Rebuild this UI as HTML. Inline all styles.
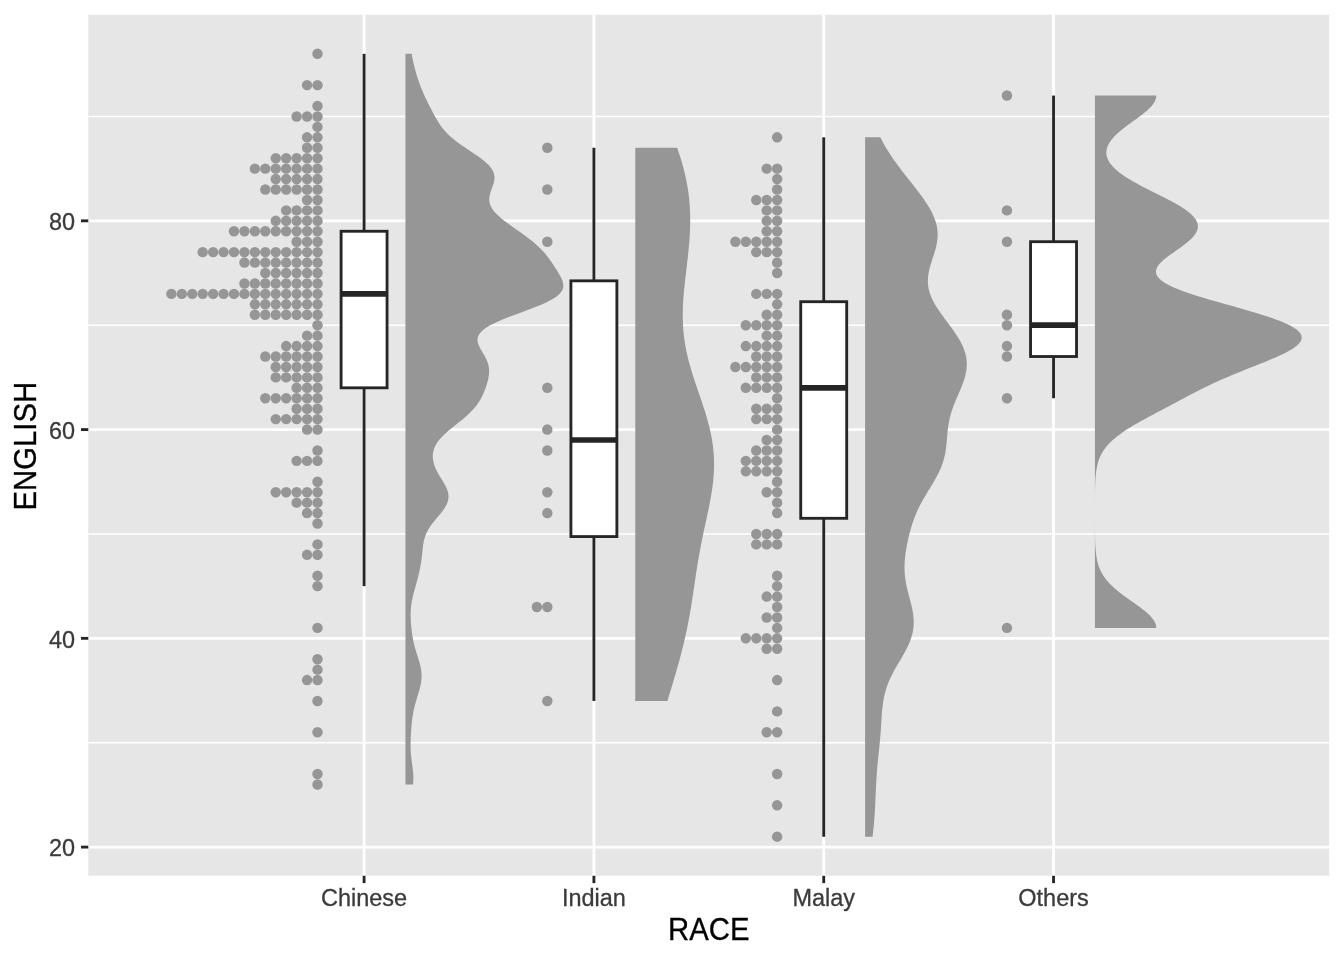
<!DOCTYPE html>
<html lang="en"><head><meta charset="utf-8"><title>Raincloud plot: ENGLISH by RACE</title>
<style>html,body{margin:0;padding:0;background:#fff}svg{display:block}</style></head>
<body>
<svg width="1344" height="960" viewBox="0 0 1344 960">
<rect width="1344" height="960" fill="#FFFFFF"/>
<rect x="88.3" y="14.67" width="1240.8" height="861.13" fill="#E6E6E6"/>
<g stroke="#FFFFFF" stroke-width="1.42">
<line x1="88.3" x2="1329.1" y1="742.72" y2="742.72"/>
<line x1="88.3" x2="1329.1" y1="533.96" y2="533.96"/>
<line x1="88.3" x2="1329.1" y1="325.2" y2="325.2"/>
<line x1="88.3" x2="1329.1" y1="116.44" y2="116.44"/>
</g>
<g stroke="#FFFFFF" stroke-width="2.84">
<line x1="88.3" x2="1329.1" y1="847.1" y2="847.1"/>
<line x1="88.3" x2="1329.1" y1="638.34" y2="638.34"/>
<line x1="88.3" x2="1329.1" y1="429.58" y2="429.58"/>
<line x1="88.3" x2="1329.1" y1="220.82" y2="220.82"/>
<line x1="364.08" x2="364.08" y1="14.67" y2="875.8"/>
<line x1="593.9" x2="593.9" y1="14.67" y2="875.8"/>
<line x1="823.73" x2="823.73" y1="14.67" y2="875.8"/>
<line x1="1053.55" x2="1053.55" y1="14.67" y2="875.8"/>
</g>
<g fill="#969696">
<path d="M405.45 784.47 L412.98 784.47 L413.24 781.55 L413.35 778.62 L413.32 775.7 L413.14 772.78 L412.86 769.85 L412.5 766.93 L412.11 764.01 L411.7 761.09 L411.33 758.16 L411.02 755.24 L410.78 752.32 L410.63 749.4 L410.56 746.47 L410.56 743.55 L410.63 740.63 L410.75 737.71 L410.9 734.78 L411.08 731.86 L411.28 728.94 L411.51 726.02 L411.78 723.09 L412.09 720.17 L412.47 717.25 L412.92 714.33 L413.46 711.4 L414.09 708.48 L414.81 705.56 L415.61 702.63 L416.47 699.71 L417.37 696.79 L418.27 693.87 L419.13 690.94 L419.92 688.02 L420.6 685.1 L421.12 682.18 L421.46 679.25 L421.6 676.33 L421.52 673.41 L421.23 670.49 L420.74 667.56 L420.08 664.64 L419.29 661.72 L418.41 658.8 L417.48 655.87 L416.55 652.95 L415.65 650.03 L414.81 647.1 L414.05 644.18 L413.39 641.26 L412.81 638.34 L412.32 635.41 L411.91 632.49 L411.55 629.57 L411.26 626.65 L411.01 623.72 L410.82 620.8 L410.7 617.88 L410.66 614.96 L410.7 612.03 L410.86 609.11 L411.12 606.19 L411.51 603.27 L412.01 600.34 L412.61 597.42 L413.31 594.5 L414.06 591.57 L414.87 588.65 L415.69 585.73 L416.51 582.81 L417.31 579.88 L418.08 576.96 L418.81 574.04 L419.48 571.12 L420.09 568.19 L420.63 565.27 L421.11 562.35 L421.51 559.43 L421.86 556.5 L422.17 553.58 L422.46 550.66 L422.78 547.74 L423.16 544.81 L423.67 541.89 L424.36 538.97 L425.27 536.05 L426.46 533.12 L427.94 530.2 L429.7 527.28 L431.74 524.35 L434 521.43 L436.41 518.51 L438.86 515.59 L441.25 512.66 L443.46 509.74 L445.38 506.82 L446.91 503.9 L447.97 500.97 L448.5 498.05 L448.51 495.13 L448 492.21 L447.05 489.28 L445.72 486.36 L444.13 483.44 L442.37 480.52 L440.57 477.59 L438.82 474.67 L437.2 471.75 L435.78 468.82 L434.59 465.9 L433.68 462.98 L433.07 460.06 L432.79 457.13 L432.87 454.21 L433.32 451.29 L434.19 448.37 L435.5 445.44 L437.25 442.52 L439.45 439.6 L442.07 436.68 L445.06 433.75 L448.36 430.83 L451.89 427.91 L455.53 424.99 L459.2 422.06 L462.78 419.14 L466.2 416.22 L469.38 413.29 L472.28 410.37 L474.88 407.45 L477.16 404.53 L479.15 401.6 L480.88 398.68 L482.38 395.76 L483.7 392.84 L484.87 389.91 L485.91 386.99 L486.84 384.07 L487.66 381.15 L488.33 378.22 L488.82 375.3 L489.08 372.38 L489.06 369.46 L488.72 366.53 L488.03 363.61 L486.99 360.69 L485.63 357.77 L484.02 354.84 L482.29 351.92 L480.57 349 L479.06 346.07 L477.95 343.15 L477.45 340.23 L477.75 337.31 L479.03 334.38 L481.4 331.46 L484.92 328.54 L489.59 325.62 L495.33 322.69 L501.99 319.77 L509.35 316.85 L517.14 313.93 L525.07 311 L532.82 308.08 L540.09 305.16 L546.62 302.24 L552.19 299.31 L556.66 296.39 L559.96 293.47 L562.12 290.54 L563.21 287.62 L563.38 284.7 L562.81 281.78 L561.69 278.85 L560.21 275.93 L558.51 273.01 L556.7 270.09 L554.84 267.16 L552.94 264.24 L550.98 261.32 L548.92 258.4 L546.69 255.47 L544.24 252.55 L541.54 249.63 L538.56 246.71 L535.3 243.78 L531.78 240.86 L528.03 237.94 L524.1 235.01 L520.03 232.09 L515.9 229.17 L511.77 226.25 L507.74 223.32 L503.88 220.4 L500.3 217.48 L497.1 214.56 L494.37 211.63 L492.18 208.71 L490.58 205.79 L489.61 202.87 L489.22 199.94 L489.38 197.02 L489.97 194.1 L490.88 191.18 L491.95 188.25 L493 185.33 L493.88 182.41 L494.42 179.49 L494.49 176.56 L493.97 173.64 L492.81 170.72 L490.97 167.79 L488.46 164.87 L485.35 161.95 L481.73 159.03 L477.71 156.1 L473.44 153.18 L469.04 150.26 L464.67 147.34 L460.44 144.41 L456.46 141.49 L452.79 138.57 L449.47 135.65 L446.51 132.72 L443.89 129.8 L441.57 126.88 L439.51 123.96 L437.64 121.03 L435.92 118.11 L434.29 115.19 L432.73 112.26 L431.2 109.34 L429.7 106.42 L428.24 103.5 L426.81 100.57 L425.43 97.65 L424.09 94.73 L422.82 91.81 L421.6 88.88 L420.45 85.96 L419.36 83.04 L418.33 80.12 L417.37 77.19 L416.46 74.27 L415.62 71.35 L414.83 68.43 L414.1 65.5 L413.41 62.58 L412.77 59.66 L412.16 56.73 L411.58 53.81 L405.45 53.81Z"/>
<path d="M635.27 700.96 L667.36 700.96 L668.04 698.75 L668.73 696.54 L669.41 694.33 L670.09 692.11 L670.77 689.9 L671.45 687.69 L672.12 685.47 L672.79 683.26 L673.45 681.05 L674.11 678.84 L674.76 676.62 L675.41 674.41 L676.06 672.2 L676.69 669.98 L677.32 667.77 L677.95 665.56 L678.56 663.35 L679.17 661.13 L679.77 658.92 L680.36 656.71 L680.95 654.49 L681.52 652.28 L682.09 650.07 L682.64 647.86 L683.19 645.64 L683.72 643.43 L684.25 641.22 L684.76 639 L685.27 636.79 L685.76 634.58 L686.24 632.37 L686.71 630.15 L687.17 627.94 L687.62 625.73 L688.06 623.52 L688.49 621.3 L688.9 619.09 L689.31 616.88 L689.71 614.66 L690.1 612.45 L690.48 610.24 L690.85 608.03 L691.21 605.81 L691.57 603.6 L691.92 601.39 L692.26 599.17 L692.6 596.96 L692.93 594.75 L693.27 592.54 L693.59 590.32 L693.92 588.11 L694.25 585.9 L694.57 583.68 L694.9 581.47 L695.23 579.26 L695.56 577.05 L695.89 574.83 L696.23 572.62 L696.57 570.41 L696.92 568.19 L697.27 565.98 L697.63 563.77 L698 561.56 L698.37 559.34 L698.76 557.13 L699.15 554.92 L699.54 552.7 L699.95 550.49 L700.37 548.28 L700.79 546.07 L701.22 543.85 L701.66 541.64 L702.1 539.43 L702.56 537.21 L703.02 535 L703.48 532.79 L703.95 530.58 L704.42 528.36 L704.9 526.15 L705.38 523.94 L705.86 521.72 L706.34 519.51 L706.81 517.3 L707.29 515.09 L707.76 512.87 L708.22 510.66 L708.68 508.45 L709.13 506.23 L709.56 504.02 L709.99 501.81 L710.4 499.6 L710.8 497.38 L711.18 495.17 L711.55 492.96 L711.89 490.74 L712.22 488.53 L712.52 486.32 L712.8 484.11 L713.05 481.89 L713.28 479.68 L713.48 477.47 L713.65 475.25 L713.8 473.04 L713.91 470.83 L713.99 468.62 L714.04 466.4 L714.06 464.19 L714.04 461.98 L713.99 459.76 L713.91 457.55 L713.79 455.34 L713.64 453.13 L713.45 450.91 L713.23 448.7 L712.97 446.49 L712.68 444.27 L712.36 442.06 L712 439.85 L711.62 437.64 L711.2 435.42 L710.75 433.21 L710.27 431 L709.76 428.78 L709.22 426.57 L708.66 424.36 L708.07 422.15 L707.46 419.93 L706.83 417.72 L706.18 415.51 L705.51 413.29 L704.82 411.08 L704.11 408.87 L703.4 406.66 L702.67 404.44 L701.93 402.23 L701.18 400.02 L700.43 397.81 L699.67 395.59 L698.91 393.38 L698.15 391.17 L697.4 388.95 L696.64 386.74 L695.89 384.53 L695.15 382.32 L694.42 380.1 L693.7 377.89 L692.99 375.68 L692.3 373.46 L691.62 371.25 L690.96 369.04 L690.32 366.83 L689.7 364.61 L689.1 362.4 L688.52 360.19 L687.97 357.97 L687.44 355.76 L686.94 353.55 L686.46 351.34 L686.02 349.12 L685.6 346.91 L685.21 344.7 L684.85 342.48 L684.51 340.27 L684.21 338.06 L683.94 335.85 L683.69 333.63 L683.48 331.42 L683.29 329.21 L683.13 326.99 L683 324.78 L682.9 322.57 L682.83 320.36 L682.78 318.14 L682.76 315.93 L682.76 313.72 L682.79 311.5 L682.84 309.29 L682.92 307.08 L683.01 304.87 L683.12 302.65 L683.26 300.44 L683.41 298.23 L683.57 296.01 L683.76 293.8 L683.95 291.59 L684.16 289.38 L684.38 287.16 L684.61 284.95 L684.85 282.74 L685.1 280.52 L685.35 278.31 L685.61 276.1 L685.87 273.89 L686.13 271.67 L686.39 269.46 L686.66 267.25 L686.92 265.03 L687.18 262.82 L687.43 260.61 L687.69 258.4 L687.93 256.18 L688.17 253.97 L688.4 251.76 L688.62 249.54 L688.83 247.33 L689.03 245.12 L689.21 242.91 L689.38 240.69 L689.54 238.48 L689.69 236.27 L689.81 234.05 L689.93 231.84 L690.02 229.63 L690.09 227.42 L690.15 225.2 L690.19 222.99 L690.2 220.78 L690.2 218.56 L690.17 216.35 L690.12 214.14 L690.05 211.93 L689.95 209.71 L689.83 207.5 L689.69 205.29 L689.52 203.07 L689.33 200.86 L689.11 198.65 L688.87 196.44 L688.6 194.22 L688.3 192.01 L687.98 189.8 L687.63 187.58 L687.25 185.37 L686.85 183.16 L686.43 180.95 L685.97 178.73 L685.49 176.52 L684.99 174.31 L684.46 172.1 L683.91 169.88 L683.33 167.67 L682.73 165.46 L682.1 163.24 L681.45 161.03 L680.78 158.82 L680.09 156.61 L679.38 154.39 L678.65 152.18 L677.9 149.97 L677.13 147.75 L635.27 147.75Z"/>
<path d="M865.09 836.66 L872.56 836.66 L872.89 833.86 L873.21 831.06 L873.5 828.27 L873.78 825.47 L874.03 822.67 L874.26 819.87 L874.47 817.08 L874.67 814.28 L874.84 811.48 L875 808.68 L875.14 805.89 L875.28 803.09 L875.4 800.29 L875.52 797.49 L875.64 794.7 L875.76 791.9 L875.89 789.1 L876.02 786.31 L876.16 783.51 L876.32 780.71 L876.49 777.91 L876.68 775.12 L876.88 772.32 L877.11 769.52 L877.34 766.72 L877.6 763.93 L877.87 761.13 L878.15 758.33 L878.44 755.53 L878.73 752.74 L879.02 749.94 L879.31 747.14 L879.59 744.34 L879.86 741.55 L880.12 738.75 L880.36 735.95 L880.59 733.16 L880.8 730.36 L880.99 727.56 L881.17 724.76 L881.35 721.97 L881.53 719.17 L881.71 716.37 L881.91 713.57 L882.14 710.78 L882.41 707.98 L882.72 705.18 L883.1 702.38 L883.56 699.59 L884.1 696.79 L884.73 693.99 L885.46 691.19 L886.31 688.4 L887.26 685.6 L888.33 682.8 L889.51 680.01 L890.79 677.21 L892.17 674.41 L893.64 671.61 L895.17 668.82 L896.77 666.02 L898.39 663.22 L900.04 660.42 L901.68 657.63 L903.29 654.83 L904.84 652.03 L906.33 649.23 L907.72 646.44 L908.99 643.64 L910.14 640.84 L911.14 638.04 L911.99 635.25 L912.67 632.45 L913.18 629.65 L913.53 626.86 L913.71 624.06 L913.73 621.26 L913.6 618.46 L913.34 615.67 L912.95 612.87 L912.45 610.07 L911.87 607.27 L911.21 604.48 L910.51 601.68 L909.78 598.88 L909.04 596.08 L908.31 593.29 L907.61 590.49 L906.95 587.69 L906.35 584.89 L905.82 582.1 L905.38 579.3 L905.02 576.5 L904.76 573.71 L904.59 570.91 L904.52 568.11 L904.54 565.31 L904.65 562.52 L904.85 559.72 L905.12 556.92 L905.46 554.12 L905.86 551.33 L906.32 548.53 L906.82 545.73 L907.38 542.93 L907.97 540.14 L908.6 537.34 L909.28 534.54 L910 531.74 L910.77 528.95 L911.59 526.15 L912.48 523.35 L913.43 520.56 L914.45 517.76 L915.55 514.96 L916.74 512.16 L918.01 509.37 L919.37 506.57 L920.81 503.77 L922.33 500.97 L923.91 498.18 L925.55 495.38 L927.22 492.58 L928.93 489.78 L930.63 486.99 L932.32 484.19 L933.98 481.39 L935.58 478.59 L937.1 475.8 L938.53 473 L939.85 470.2 L941.06 467.41 L942.14 464.61 L943.09 461.81 L943.92 459.01 L944.62 456.22 L945.2 453.42 L945.68 450.62 L946.07 447.82 L946.39 445.03 L946.66 442.23 L946.9 439.43 L947.13 436.63 L947.37 433.84 L947.64 431.04 L947.96 428.24 L948.35 425.44 L948.81 422.65 L949.37 419.85 L950.02 417.05 L950.76 414.26 L951.61 411.46 L952.54 408.66 L953.56 405.86 L954.65 403.07 L955.79 400.27 L956.98 397.47 L958.19 394.67 L959.4 391.88 L960.58 389.08 L961.72 386.28 L962.8 383.48 L963.79 380.69 L964.66 377.89 L965.41 375.09 L966.01 372.29 L966.45 369.5 L966.71 366.7 L966.78 363.9 L966.66 361.11 L966.35 358.31 L965.83 355.51 L965.11 352.71 L964.2 349.92 L963.11 347.12 L961.83 344.32 L960.39 341.52 L958.8 338.73 L957.08 335.93 L955.24 333.13 L953.3 330.33 L951.29 327.54 L949.23 324.74 L947.15 321.94 L945.06 319.14 L942.99 316.35 L940.97 313.55 L939.02 310.75 L937.17 307.96 L935.43 305.16 L933.84 302.36 L932.41 299.56 L931.15 296.77 L930.09 293.97 L929.22 291.17 L928.57 288.37 L928.13 285.58 L927.89 282.78 L927.86 279.98 L928.03 277.18 L928.37 274.39 L928.87 271.59 L929.51 268.79 L930.26 265.99 L931.1 263.2 L931.99 260.4 L932.9 257.6 L933.81 254.81 L934.68 252.01 L935.49 249.21 L936.2 246.41 L936.79 243.62 L937.24 240.82 L937.54 238.02 L937.66 235.22 L937.61 232.43 L937.36 229.63 L936.93 226.83 L936.31 224.03 L935.5 221.24 L934.52 218.44 L933.36 215.64 L932.05 212.84 L930.59 210.05 L928.99 207.25 L927.27 204.45 L925.44 201.66 L923.52 198.86 L921.52 196.06 L919.46 193.26 L917.34 190.47 L915.18 187.67 L912.99 184.87 L910.79 182.07 L908.58 179.28 L906.38 176.48 L904.19 173.68 L902.03 170.88 L899.9 168.09 L897.81 165.29 L895.76 162.49 L893.77 159.69 L891.85 156.9 L889.98 154.1 L888.18 151.3 L886.46 148.51 L884.81 145.71 L883.24 142.91 L881.74 140.11 L880.32 137.32 L865.09 137.32Z"/>
<path d="M1094.91 627.9 L1156.29 627.9 L1156.09 625.77 L1155.49 623.64 L1154.5 621.51 L1153.14 619.38 L1151.44 617.25 L1149.43 615.12 L1147.15 612.99 L1144.63 610.86 L1141.93 608.73 L1139.08 606.61 L1136.13 604.48 L1133.12 602.35 L1130.11 600.22 L1127.11 598.09 L1124.18 595.96 L1121.34 593.83 L1118.62 591.7 L1116.04 589.57 L1113.62 587.44 L1111.37 585.31 L1109.29 583.18 L1107.39 581.05 L1105.68 578.92 L1104.13 576.79 L1102.76 574.67 L1101.55 572.54 L1100.49 570.41 L1099.56 568.28 L1098.77 566.15 L1098.09 564.02 L1097.51 561.89 L1097.02 559.76 L1096.62 557.63 L1096.28 555.5 L1096 553.37 L1095.78 551.24 L1095.59 549.11 L1095.44 546.98 L1095.32 544.85 L1095.23 542.73 L1095.16 540.6 L1095.1 538.47 L1095.05 536.34 L1095.02 534.21 L1094.99 532.08 L1094.97 529.95 L1094.96 527.82 L1094.94 525.69 L1094.94 523.56 L1094.93 521.43 L1094.93 519.3 L1094.92 517.17 L1094.92 515.04 L1094.92 512.91 L1094.92 510.79 L1094.92 508.66 L1094.93 506.53 L1094.93 504.4 L1094.94 502.27 L1094.95 500.14 L1094.96 498.01 L1094.97 495.88 L1095 493.75 L1095.02 491.62 L1095.06 489.49 L1095.11 487.36 L1095.17 485.23 L1095.24 483.1 L1095.34 480.97 L1095.47 478.85 L1095.62 476.72 L1095.81 474.59 L1096.05 472.46 L1096.33 470.33 L1096.68 468.2 L1097.11 466.07 L1097.61 463.94 L1098.21 461.81 L1098.92 459.68 L1099.74 457.55 L1100.7 455.42 L1101.81 453.29 L1103.08 451.16 L1104.52 449.03 L1106.14 446.91 L1107.95 444.78 L1109.96 442.65 L1112.18 440.52 L1114.6 438.39 L1117.22 436.26 L1120.05 434.13 L1123.07 432 L1126.27 429.87 L1129.64 427.74 L1133.17 425.61 L1136.82 423.48 L1140.59 421.35 L1144.45 419.22 L1148.38 417.09 L1152.36 414.96 L1156.37 412.84 L1160.39 410.71 L1164.41 408.58 L1168.43 406.45 L1172.43 404.32 L1176.42 402.19 L1180.41 400.06 L1184.4 397.93 L1188.41 395.8 L1192.45 393.67 L1196.55 391.54 L1200.73 389.41 L1205 387.28 L1209.39 385.15 L1213.9 383.02 L1218.56 380.9 L1223.37 378.77 L1228.33 376.64 L1233.42 374.51 L1238.64 372.38 L1243.95 370.25 L1249.33 368.12 L1254.73 365.99 L1260.12 363.86 L1265.43 361.73 L1270.61 359.6 L1275.59 357.47 L1280.32 355.34 L1284.73 353.21 L1288.76 351.08 L1292.34 348.96 L1295.42 346.83 L1297.94 344.7 L1299.86 342.57 L1301.13 340.44 L1301.72 338.31 L1301.6 336.18 L1300.77 334.05 L1299.2 331.92 L1296.9 329.79 L1293.88 327.66 L1290.17 325.53 L1285.78 323.4 L1280.78 321.27 L1275.19 319.14 L1269.08 317.02 L1262.52 314.89 L1255.58 312.76 L1248.34 310.63 L1240.87 308.5 L1233.28 306.37 L1225.64 304.24 L1218.04 302.11 L1210.59 299.98 L1203.35 297.85 L1196.42 295.72 L1189.87 293.59 L1183.77 291.46 L1178.18 289.33 L1173.15 287.2 L1168.73 285.08 L1164.96 282.95 L1161.84 280.82 L1159.39 278.69 L1157.6 276.56 L1156.48 274.43 L1155.98 272.3 L1156.09 270.17 L1156.76 268.04 L1157.94 265.91 L1159.58 263.78 L1161.62 261.65 L1164 259.52 L1166.64 257.39 L1169.49 255.26 L1172.47 253.14 L1175.52 251.01 L1178.57 248.88 L1181.56 246.75 L1184.44 244.62 L1187.15 242.49 L1189.63 240.36 L1191.86 238.23 L1193.78 236.1 L1195.36 233.97 L1196.58 231.84 L1197.42 229.71 L1197.85 227.58 L1197.87 225.45 L1197.48 223.32 L1196.67 221.2 L1195.44 219.07 L1193.81 216.94 L1191.79 214.81 L1189.41 212.68 L1186.67 210.55 L1183.62 208.42 L1180.28 206.29 L1176.69 204.16 L1172.88 202.03 L1168.89 199.9 L1164.77 197.77 L1160.55 195.64 L1156.28 193.51 L1152 191.38 L1147.75 189.25 L1143.57 187.13 L1139.5 185 L1135.56 182.87 L1131.8 180.74 L1128.24 178.61 L1124.89 176.48 L1121.79 174.35 L1118.95 172.22 L1116.38 170.09 L1114.09 167.96 L1112.09 165.83 L1110.39 163.7 L1108.98 161.57 L1107.88 159.44 L1107.07 157.31 L1106.56 155.19 L1106.34 153.06 L1106.42 150.93 L1106.79 148.8 L1107.44 146.67 L1108.38 144.54 L1109.59 142.41 L1111.06 140.28 L1112.79 138.15 L1114.75 136.02 L1116.94 133.89 L1119.32 131.76 L1121.89 129.63 L1124.61 127.5 L1127.44 125.37 L1130.36 123.25 L1133.31 121.12 L1136.27 118.99 L1139.19 116.86 L1142.01 114.73 L1144.69 112.6 L1147.19 110.47 L1149.46 108.34 L1151.46 106.21 L1153.16 104.08 L1154.51 101.95 L1155.49 99.82 L1156.09 97.69 L1156.29 95.56 L1094.91 95.56Z"/>
</g>
<g stroke="#252525" stroke-width="2.84" fill="#FFFFFF">
<line x1="364.08" x2="364.08" y1="53.81" y2="231.26"/>
<line x1="364.08" x2="364.08" y1="387.83" y2="586.15"/>
<rect x="341.1" y="231.26" width="45.96" height="156.57"/>
<line x1="341.1" x2="387.07" y1="293.88" y2="293.88" stroke-width="5.68"/>
<line x1="593.9" x2="593.9" y1="147.75" y2="280.84"/>
<line x1="593.9" x2="593.9" y1="536.57" y2="700.96"/>
<rect x="570.92" y="280.84" width="45.96" height="255.73"/>
<line x1="570.92" x2="616.89" y1="440.02" y2="440.02" stroke-width="5.68"/>
<line x1="823.73" x2="823.73" y1="137.32" y2="301.71"/>
<line x1="823.73" x2="823.73" y1="518.3" y2="836.66"/>
<rect x="800.74" y="301.71" width="45.96" height="216.59"/>
<line x1="800.74" x2="846.71" y1="387.83" y2="387.83" stroke-width="5.68"/>
<line x1="1053.55" x2="1053.55" y1="95.56" y2="241.7"/>
<line x1="1053.55" x2="1053.55" y1="356.51" y2="398.26"/>
<rect x="1030.56" y="241.7" width="45.96" height="114.82"/>
<line x1="1030.56" x2="1076.53" y1="325.2" y2="325.2" stroke-width="5.68"/>
</g>
<g fill="#969696">
<circle cx="317.5" cy="53.81" r="5.22"/>
<circle cx="317.5" cy="85.13" r="5.22"/>
<circle cx="307.06" cy="85.13" r="5.22"/>
<circle cx="317.5" cy="106" r="5.22"/>
<circle cx="317.5" cy="116.44" r="5.22"/>
<circle cx="307.06" cy="116.44" r="5.22"/>
<circle cx="296.62" cy="116.44" r="5.22"/>
<circle cx="317.5" cy="126.88" r="5.22"/>
<circle cx="317.5" cy="137.32" r="5.22"/>
<circle cx="307.06" cy="137.32" r="5.22"/>
<circle cx="317.5" cy="147.75" r="5.22"/>
<circle cx="307.06" cy="147.75" r="5.22"/>
<circle cx="317.5" cy="158.19" r="5.22"/>
<circle cx="307.06" cy="158.19" r="5.22"/>
<circle cx="296.62" cy="158.19" r="5.22"/>
<circle cx="286.18" cy="158.19" r="5.22"/>
<circle cx="275.75" cy="158.19" r="5.22"/>
<circle cx="317.5" cy="168.63" r="5.22"/>
<circle cx="307.06" cy="168.63" r="5.22"/>
<circle cx="296.62" cy="168.63" r="5.22"/>
<circle cx="286.18" cy="168.63" r="5.22"/>
<circle cx="275.75" cy="168.63" r="5.22"/>
<circle cx="265.31" cy="168.63" r="5.22"/>
<circle cx="254.87" cy="168.63" r="5.22"/>
<circle cx="317.5" cy="179.07" r="5.22"/>
<circle cx="307.06" cy="179.07" r="5.22"/>
<circle cx="296.62" cy="179.07" r="5.22"/>
<circle cx="286.18" cy="179.07" r="5.22"/>
<circle cx="275.75" cy="179.07" r="5.22"/>
<circle cx="317.5" cy="189.51" r="5.22"/>
<circle cx="307.06" cy="189.51" r="5.22"/>
<circle cx="296.62" cy="189.51" r="5.22"/>
<circle cx="286.18" cy="189.51" r="5.22"/>
<circle cx="275.75" cy="189.51" r="5.22"/>
<circle cx="265.31" cy="189.51" r="5.22"/>
<circle cx="317.5" cy="199.94" r="5.22"/>
<circle cx="307.06" cy="199.94" r="5.22"/>
<circle cx="317.5" cy="210.38" r="5.22"/>
<circle cx="307.06" cy="210.38" r="5.22"/>
<circle cx="296.62" cy="210.38" r="5.22"/>
<circle cx="286.18" cy="210.38" r="5.22"/>
<circle cx="317.5" cy="220.82" r="5.22"/>
<circle cx="307.06" cy="220.82" r="5.22"/>
<circle cx="296.62" cy="220.82" r="5.22"/>
<circle cx="286.18" cy="220.82" r="5.22"/>
<circle cx="275.75" cy="220.82" r="5.22"/>
<circle cx="317.5" cy="231.26" r="5.22"/>
<circle cx="307.06" cy="231.26" r="5.22"/>
<circle cx="296.62" cy="231.26" r="5.22"/>
<circle cx="286.18" cy="231.26" r="5.22"/>
<circle cx="275.75" cy="231.26" r="5.22"/>
<circle cx="265.31" cy="231.26" r="5.22"/>
<circle cx="254.87" cy="231.26" r="5.22"/>
<circle cx="244.43" cy="231.26" r="5.22"/>
<circle cx="233.99" cy="231.26" r="5.22"/>
<circle cx="317.5" cy="241.7" r="5.22"/>
<circle cx="307.06" cy="241.7" r="5.22"/>
<circle cx="296.62" cy="241.7" r="5.22"/>
<circle cx="317.5" cy="252.13" r="5.22"/>
<circle cx="307.06" cy="252.13" r="5.22"/>
<circle cx="296.62" cy="252.13" r="5.22"/>
<circle cx="286.18" cy="252.13" r="5.22"/>
<circle cx="275.75" cy="252.13" r="5.22"/>
<circle cx="265.31" cy="252.13" r="5.22"/>
<circle cx="254.87" cy="252.13" r="5.22"/>
<circle cx="244.43" cy="252.13" r="5.22"/>
<circle cx="233.99" cy="252.13" r="5.22"/>
<circle cx="223.56" cy="252.13" r="5.22"/>
<circle cx="213.12" cy="252.13" r="5.22"/>
<circle cx="202.68" cy="252.13" r="5.22"/>
<circle cx="317.5" cy="262.57" r="5.22"/>
<circle cx="307.06" cy="262.57" r="5.22"/>
<circle cx="296.62" cy="262.57" r="5.22"/>
<circle cx="286.18" cy="262.57" r="5.22"/>
<circle cx="275.75" cy="262.57" r="5.22"/>
<circle cx="265.31" cy="262.57" r="5.22"/>
<circle cx="254.87" cy="262.57" r="5.22"/>
<circle cx="244.43" cy="262.57" r="5.22"/>
<circle cx="317.5" cy="273.01" r="5.22"/>
<circle cx="307.06" cy="273.01" r="5.22"/>
<circle cx="296.62" cy="273.01" r="5.22"/>
<circle cx="286.18" cy="273.01" r="5.22"/>
<circle cx="275.75" cy="273.01" r="5.22"/>
<circle cx="265.31" cy="273.01" r="5.22"/>
<circle cx="317.5" cy="283.45" r="5.22"/>
<circle cx="307.06" cy="283.45" r="5.22"/>
<circle cx="296.62" cy="283.45" r="5.22"/>
<circle cx="286.18" cy="283.45" r="5.22"/>
<circle cx="275.75" cy="283.45" r="5.22"/>
<circle cx="265.31" cy="283.45" r="5.22"/>
<circle cx="254.87" cy="283.45" r="5.22"/>
<circle cx="244.43" cy="283.45" r="5.22"/>
<circle cx="317.5" cy="293.88" r="5.22"/>
<circle cx="307.06" cy="293.88" r="5.22"/>
<circle cx="296.62" cy="293.88" r="5.22"/>
<circle cx="286.18" cy="293.88" r="5.22"/>
<circle cx="275.75" cy="293.88" r="5.22"/>
<circle cx="265.31" cy="293.88" r="5.22"/>
<circle cx="254.87" cy="293.88" r="5.22"/>
<circle cx="244.43" cy="293.88" r="5.22"/>
<circle cx="233.99" cy="293.88" r="5.22"/>
<circle cx="223.56" cy="293.88" r="5.22"/>
<circle cx="213.12" cy="293.88" r="5.22"/>
<circle cx="202.68" cy="293.88" r="5.22"/>
<circle cx="192.24" cy="293.88" r="5.22"/>
<circle cx="181.8" cy="293.88" r="5.22"/>
<circle cx="171.37" cy="293.88" r="5.22"/>
<circle cx="317.5" cy="304.32" r="5.22"/>
<circle cx="307.06" cy="304.32" r="5.22"/>
<circle cx="296.62" cy="304.32" r="5.22"/>
<circle cx="286.18" cy="304.32" r="5.22"/>
<circle cx="275.75" cy="304.32" r="5.22"/>
<circle cx="265.31" cy="304.32" r="5.22"/>
<circle cx="254.87" cy="304.32" r="5.22"/>
<circle cx="317.5" cy="314.76" r="5.22"/>
<circle cx="307.06" cy="314.76" r="5.22"/>
<circle cx="296.62" cy="314.76" r="5.22"/>
<circle cx="286.18" cy="314.76" r="5.22"/>
<circle cx="275.75" cy="314.76" r="5.22"/>
<circle cx="265.31" cy="314.76" r="5.22"/>
<circle cx="254.87" cy="314.76" r="5.22"/>
<circle cx="317.5" cy="325.2" r="5.22"/>
<circle cx="317.5" cy="335.64" r="5.22"/>
<circle cx="307.06" cy="335.64" r="5.22"/>
<circle cx="317.5" cy="346.07" r="5.22"/>
<circle cx="307.06" cy="346.07" r="5.22"/>
<circle cx="296.62" cy="346.07" r="5.22"/>
<circle cx="286.18" cy="346.07" r="5.22"/>
<circle cx="317.5" cy="356.51" r="5.22"/>
<circle cx="307.06" cy="356.51" r="5.22"/>
<circle cx="296.62" cy="356.51" r="5.22"/>
<circle cx="286.18" cy="356.51" r="5.22"/>
<circle cx="275.75" cy="356.51" r="5.22"/>
<circle cx="265.31" cy="356.51" r="5.22"/>
<circle cx="317.5" cy="366.95" r="5.22"/>
<circle cx="307.06" cy="366.95" r="5.22"/>
<circle cx="296.62" cy="366.95" r="5.22"/>
<circle cx="286.18" cy="366.95" r="5.22"/>
<circle cx="275.75" cy="366.95" r="5.22"/>
<circle cx="317.5" cy="377.39" r="5.22"/>
<circle cx="307.06" cy="377.39" r="5.22"/>
<circle cx="296.62" cy="377.39" r="5.22"/>
<circle cx="286.18" cy="377.39" r="5.22"/>
<circle cx="275.75" cy="377.39" r="5.22"/>
<circle cx="317.5" cy="387.83" r="5.22"/>
<circle cx="307.06" cy="387.83" r="5.22"/>
<circle cx="296.62" cy="387.83" r="5.22"/>
<circle cx="317.5" cy="398.26" r="5.22"/>
<circle cx="307.06" cy="398.26" r="5.22"/>
<circle cx="296.62" cy="398.26" r="5.22"/>
<circle cx="286.18" cy="398.26" r="5.22"/>
<circle cx="275.75" cy="398.26" r="5.22"/>
<circle cx="265.31" cy="398.26" r="5.22"/>
<circle cx="317.5" cy="408.7" r="5.22"/>
<circle cx="307.06" cy="408.7" r="5.22"/>
<circle cx="296.62" cy="408.7" r="5.22"/>
<circle cx="317.5" cy="419.14" r="5.22"/>
<circle cx="307.06" cy="419.14" r="5.22"/>
<circle cx="296.62" cy="419.14" r="5.22"/>
<circle cx="286.18" cy="419.14" r="5.22"/>
<circle cx="275.75" cy="419.14" r="5.22"/>
<circle cx="317.5" cy="429.58" r="5.22"/>
<circle cx="307.06" cy="429.58" r="5.22"/>
<circle cx="317.5" cy="450.45" r="5.22"/>
<circle cx="317.5" cy="460.89" r="5.22"/>
<circle cx="307.06" cy="460.89" r="5.22"/>
<circle cx="296.62" cy="460.89" r="5.22"/>
<circle cx="317.5" cy="481.77" r="5.22"/>
<circle cx="317.5" cy="492.21" r="5.22"/>
<circle cx="307.06" cy="492.21" r="5.22"/>
<circle cx="296.62" cy="492.21" r="5.22"/>
<circle cx="286.18" cy="492.21" r="5.22"/>
<circle cx="275.75" cy="492.21" r="5.22"/>
<circle cx="317.5" cy="502.64" r="5.22"/>
<circle cx="307.06" cy="502.64" r="5.22"/>
<circle cx="296.62" cy="502.64" r="5.22"/>
<circle cx="317.5" cy="513.08" r="5.22"/>
<circle cx="307.06" cy="513.08" r="5.22"/>
<circle cx="317.5" cy="523.52" r="5.22"/>
<circle cx="317.5" cy="544.4" r="5.22"/>
<circle cx="317.5" cy="554.83" r="5.22"/>
<circle cx="307.06" cy="554.83" r="5.22"/>
<circle cx="317.5" cy="575.71" r="5.22"/>
<circle cx="317.5" cy="586.15" r="5.22"/>
<circle cx="317.5" cy="627.9" r="5.22"/>
<circle cx="317.5" cy="659.21" r="5.22"/>
<circle cx="317.5" cy="669.65" r="5.22"/>
<circle cx="317.5" cy="680.09" r="5.22"/>
<circle cx="307.06" cy="680.09" r="5.22"/>
<circle cx="317.5" cy="700.96" r="5.22"/>
<circle cx="317.5" cy="732.28" r="5.22"/>
<circle cx="317.5" cy="774.03" r="5.22"/>
<circle cx="317.5" cy="784.47" r="5.22"/>
<circle cx="547.32" cy="147.75" r="5.22"/>
<circle cx="547.32" cy="189.51" r="5.22"/>
<circle cx="547.32" cy="241.7" r="5.22"/>
<circle cx="547.32" cy="293.88" r="5.22"/>
<circle cx="547.32" cy="387.83" r="5.22"/>
<circle cx="547.32" cy="429.58" r="5.22"/>
<circle cx="547.32" cy="450.45" r="5.22"/>
<circle cx="547.32" cy="492.21" r="5.22"/>
<circle cx="547.32" cy="513.08" r="5.22"/>
<circle cx="547.32" cy="607.02" r="5.22"/>
<circle cx="536.88" cy="607.02" r="5.22"/>
<circle cx="547.32" cy="700.96" r="5.22"/>
<circle cx="777.14" cy="137.32" r="5.22"/>
<circle cx="777.14" cy="168.63" r="5.22"/>
<circle cx="766.7" cy="168.63" r="5.22"/>
<circle cx="777.14" cy="179.07" r="5.22"/>
<circle cx="777.14" cy="189.51" r="5.22"/>
<circle cx="777.14" cy="199.94" r="5.22"/>
<circle cx="766.7" cy="199.94" r="5.22"/>
<circle cx="756.26" cy="199.94" r="5.22"/>
<circle cx="777.14" cy="210.38" r="5.22"/>
<circle cx="766.7" cy="210.38" r="5.22"/>
<circle cx="777.14" cy="220.82" r="5.22"/>
<circle cx="766.7" cy="220.82" r="5.22"/>
<circle cx="777.14" cy="231.26" r="5.22"/>
<circle cx="766.7" cy="231.26" r="5.22"/>
<circle cx="777.14" cy="241.7" r="5.22"/>
<circle cx="766.7" cy="241.7" r="5.22"/>
<circle cx="756.26" cy="241.7" r="5.22"/>
<circle cx="745.82" cy="241.7" r="5.22"/>
<circle cx="735.39" cy="241.7" r="5.22"/>
<circle cx="777.14" cy="252.13" r="5.22"/>
<circle cx="766.7" cy="252.13" r="5.22"/>
<circle cx="756.26" cy="252.13" r="5.22"/>
<circle cx="777.14" cy="262.57" r="5.22"/>
<circle cx="777.14" cy="273.01" r="5.22"/>
<circle cx="777.14" cy="293.88" r="5.22"/>
<circle cx="766.7" cy="293.88" r="5.22"/>
<circle cx="756.26" cy="293.88" r="5.22"/>
<circle cx="777.14" cy="304.32" r="5.22"/>
<circle cx="777.14" cy="314.76" r="5.22"/>
<circle cx="766.7" cy="314.76" r="5.22"/>
<circle cx="777.14" cy="325.2" r="5.22"/>
<circle cx="766.7" cy="325.2" r="5.22"/>
<circle cx="756.26" cy="325.2" r="5.22"/>
<circle cx="745.82" cy="325.2" r="5.22"/>
<circle cx="777.14" cy="335.64" r="5.22"/>
<circle cx="766.7" cy="335.64" r="5.22"/>
<circle cx="777.14" cy="346.07" r="5.22"/>
<circle cx="766.7" cy="346.07" r="5.22"/>
<circle cx="756.26" cy="346.07" r="5.22"/>
<circle cx="745.82" cy="346.07" r="5.22"/>
<circle cx="777.14" cy="356.51" r="5.22"/>
<circle cx="766.7" cy="356.51" r="5.22"/>
<circle cx="756.26" cy="356.51" r="5.22"/>
<circle cx="777.14" cy="366.95" r="5.22"/>
<circle cx="766.7" cy="366.95" r="5.22"/>
<circle cx="756.26" cy="366.95" r="5.22"/>
<circle cx="745.82" cy="366.95" r="5.22"/>
<circle cx="735.39" cy="366.95" r="5.22"/>
<circle cx="777.14" cy="377.39" r="5.22"/>
<circle cx="766.7" cy="377.39" r="5.22"/>
<circle cx="756.26" cy="377.39" r="5.22"/>
<circle cx="777.14" cy="387.83" r="5.22"/>
<circle cx="766.7" cy="387.83" r="5.22"/>
<circle cx="756.26" cy="387.83" r="5.22"/>
<circle cx="745.82" cy="387.83" r="5.22"/>
<circle cx="777.14" cy="398.26" r="5.22"/>
<circle cx="777.14" cy="408.7" r="5.22"/>
<circle cx="766.7" cy="408.7" r="5.22"/>
<circle cx="756.26" cy="408.7" r="5.22"/>
<circle cx="777.14" cy="419.14" r="5.22"/>
<circle cx="766.7" cy="419.14" r="5.22"/>
<circle cx="756.26" cy="419.14" r="5.22"/>
<circle cx="777.14" cy="429.58" r="5.22"/>
<circle cx="777.14" cy="440.02" r="5.22"/>
<circle cx="766.7" cy="440.02" r="5.22"/>
<circle cx="777.14" cy="450.45" r="5.22"/>
<circle cx="766.7" cy="450.45" r="5.22"/>
<circle cx="756.26" cy="450.45" r="5.22"/>
<circle cx="777.14" cy="460.89" r="5.22"/>
<circle cx="766.7" cy="460.89" r="5.22"/>
<circle cx="756.26" cy="460.89" r="5.22"/>
<circle cx="745.82" cy="460.89" r="5.22"/>
<circle cx="777.14" cy="471.33" r="5.22"/>
<circle cx="766.7" cy="471.33" r="5.22"/>
<circle cx="756.26" cy="471.33" r="5.22"/>
<circle cx="745.82" cy="471.33" r="5.22"/>
<circle cx="777.14" cy="481.77" r="5.22"/>
<circle cx="777.14" cy="492.21" r="5.22"/>
<circle cx="766.7" cy="492.21" r="5.22"/>
<circle cx="777.14" cy="502.64" r="5.22"/>
<circle cx="777.14" cy="513.08" r="5.22"/>
<circle cx="777.14" cy="533.96" r="5.22"/>
<circle cx="766.7" cy="533.96" r="5.22"/>
<circle cx="756.26" cy="533.96" r="5.22"/>
<circle cx="777.14" cy="544.4" r="5.22"/>
<circle cx="766.7" cy="544.4" r="5.22"/>
<circle cx="756.26" cy="544.4" r="5.22"/>
<circle cx="777.14" cy="575.71" r="5.22"/>
<circle cx="777.14" cy="586.15" r="5.22"/>
<circle cx="777.14" cy="596.59" r="5.22"/>
<circle cx="766.7" cy="596.59" r="5.22"/>
<circle cx="777.14" cy="607.02" r="5.22"/>
<circle cx="777.14" cy="617.46" r="5.22"/>
<circle cx="766.7" cy="617.46" r="5.22"/>
<circle cx="777.14" cy="627.9" r="5.22"/>
<circle cx="777.14" cy="638.34" r="5.22"/>
<circle cx="766.7" cy="638.34" r="5.22"/>
<circle cx="756.26" cy="638.34" r="5.22"/>
<circle cx="745.82" cy="638.34" r="5.22"/>
<circle cx="777.14" cy="648.77" r="5.22"/>
<circle cx="766.7" cy="648.77" r="5.22"/>
<circle cx="777.14" cy="680.09" r="5.22"/>
<circle cx="777.14" cy="711.4" r="5.22"/>
<circle cx="777.14" cy="732.28" r="5.22"/>
<circle cx="766.7" cy="732.28" r="5.22"/>
<circle cx="777.14" cy="774.03" r="5.22"/>
<circle cx="777.14" cy="805.34" r="5.22"/>
<circle cx="777.14" cy="836.66" r="5.22"/>
<circle cx="1006.96" cy="95.56" r="5.22"/>
<circle cx="1006.96" cy="210.38" r="5.22"/>
<circle cx="1006.96" cy="241.7" r="5.22"/>
<circle cx="1006.96" cy="314.76" r="5.22"/>
<circle cx="1006.96" cy="325.2" r="5.22"/>
<circle cx="1006.96" cy="346.07" r="5.22"/>
<circle cx="1006.96" cy="356.51" r="5.22"/>
<circle cx="1006.96" cy="398.26" r="5.22"/>
<circle cx="1006.96" cy="627.9" r="5.22"/>
</g>
<g stroke="#252525" stroke-width="2.84">
<line x1="80.97" x2="88.3" y1="847.1" y2="847.1"/>
<line x1="80.97" x2="88.3" y1="638.34" y2="638.34"/>
<line x1="80.97" x2="88.3" y1="429.58" y2="429.58"/>
<line x1="80.97" x2="88.3" y1="220.82" y2="220.82"/>
<line x1="364.08" x2="364.08" y1="875.8" y2="883.13"/>
<line x1="593.9" x2="593.9" y1="875.8" y2="883.13"/>
<line x1="823.73" x2="823.73" y1="875.8" y2="883.13"/>
<line x1="1053.55" x2="1053.55" y1="875.8" y2="883.13"/>
</g>
<g font-family="'Liberation Sans', Arial, Helvetica, sans-serif" font-size="23.47" fill="#3B3B3B" stroke="#3B3B3B" stroke-width="0.3">
<text transform="translate(75.1 856.3) scale(1 1.03)" text-anchor="end">20</text>
<text transform="translate(75.1 647.54) scale(1 1.03)" text-anchor="end">40</text>
<text transform="translate(75.1 438.78) scale(1 1.03)" text-anchor="end">60</text>
<text transform="translate(75.1 230.02) scale(1 1.03)" text-anchor="end">80</text>
<text x="364.08" y="906.25" text-anchor="middle">Chinese</text>
<text x="593.9" y="906.25" text-anchor="middle">Indian</text>
<text x="823.73" y="906.25" text-anchor="middle">Malay</text>
<text x="1053.55" y="906.25" text-anchor="middle">Others</text>
</g>
<g font-family="'Liberation Sans', Arial, Helvetica, sans-serif" font-size="29.33" fill="#000000" stroke="#000000" stroke-width="0.3">
<text transform="translate(708.81 940) scale(1 1.044)" text-anchor="middle">RACE</text>
<text transform="translate(35.8 446.13) rotate(-90) scale(1 1.044)" text-anchor="middle">ENGLISH</text>
</g>
</svg>
</body></html>
